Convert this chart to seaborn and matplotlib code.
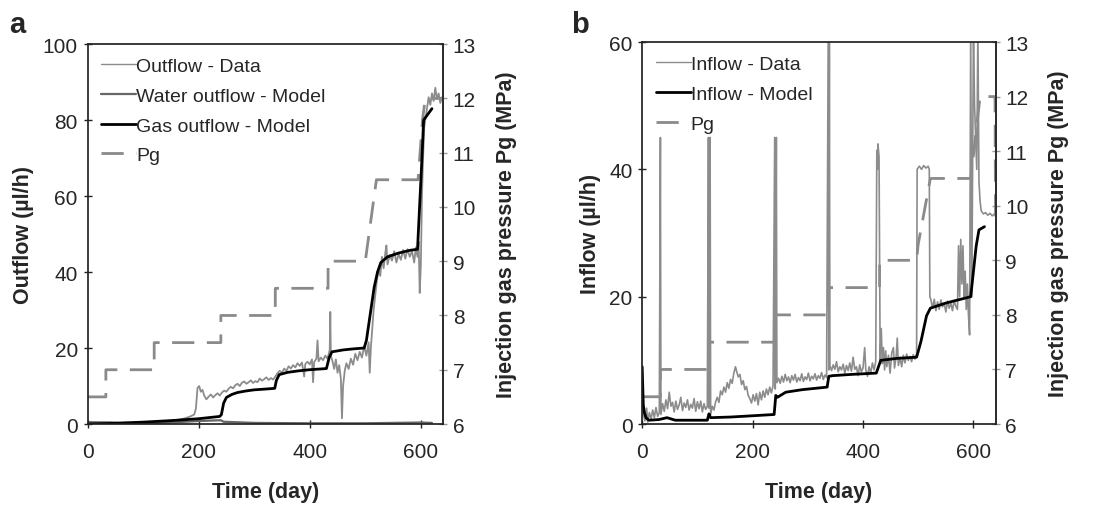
import matplotlib
matplotlib.use("Agg")
import matplotlib.pyplot as plt
import seaborn as sns

# ---------------------------------------------------------------------------
# Panel a data: outflow (ul/h) and injection pressure (MPa) vs time (day)
# ---------------------------------------------------------------------------
OUT_DATA_DAY = [
    0, 20, 40, 60, 80, 100, 120, 140, 160, 175, 185, 192, 195, 198, 201, 204,
    207, 210, 214, 218, 222, 226, 230, 234, 238, 242, 246, 250, 254, 258, 262,
    266, 270, 274, 278, 282, 286, 290, 294, 298, 302, 306, 310, 314, 318, 322,
    326, 330, 334, 338, 342, 346, 350, 354, 358, 362, 366, 370, 374, 378, 382,
    386, 390, 392, 396, 400, 404, 406, 408, 412, 414, 416, 420, 424, 428, 432,
    436, 437, 438, 441, 444, 447, 450, 453, 456, 458, 460, 463, 466, 470, 474,
    478, 482, 486, 490, 494, 498, 502, 506, 508, 510, 512, 515, 518, 521, 524,
    527, 530, 533, 536, 538, 540, 544, 548, 552, 556, 560, 564, 568, 572, 576,
    580, 584, 588, 591, 594, 596, 598, 600, 602, 604, 606, 608, 611, 614, 617,
    620, 623, 626, 629, 632, 635, 638, 640,
]
OUT_DATA_VAL = [
    0.3, 0.4, 0.5, 0.3, 0.4, 0.5, 0.6, 0.8, 1.0, 1.5, 2.0, 2.5, 4.0, 9.5, 10.0, 8.5,
    9.0, 7.5, 6.5, 7.2, 7.8, 7.0, 7.6, 8.1, 7.5, 8.3, 8.8, 8.5, 9.3, 9.8, 9.4,
    10.2, 10.6, 10.0, 10.9, 11.2, 10.6, 11.0, 11.5, 10.8, 11.3, 11.0, 12.0, 11.4, 11.8, 12.3,
    11.6, 12.1, 11.7, 12.5, 13.4, 14.0, 13.5, 14.6, 14.0, 15.2, 14.6, 15.5, 14.9, 16.0, 15.3,
    16.2, 12.5, 15.8, 16.4, 15.7, 17.0, 11.0, 16.3, 17.2, 22.0, 16.5, 17.5, 16.8, 18.0, 17.2,
    19.5, 29.5, 18.0, 16.5, 14.5, 17.0, 13.5, 15.5, 12.0, 1.5, 10.0, 14.0, 16.0, 14.5, 17.2,
    15.6, 18.5, 16.8, 19.0, 17.5, 20.5, 18.0, 21.5, 13.5, 20.0, 24.0, 30.0, 34.0, 38.0, 40.5,
    39.0, 44.0, 41.0, 45.0, 47.0, 42.0, 44.5, 43.0, 45.5, 42.5, 44.8, 43.2, 45.8, 43.5, 46.0,
    44.0, 45.5, 42.5, 46.5, 44.0, 48.0, 34.5, 42.0, 60.0, 70.0, 78.0, 80.0, 83.0, 86.0, 84.0,
    87.0, 85.0, 88.5, 85.5, 87.0, 84.5, 86.0, 85.0,
]

WATER_DAY = [0, 50, 100, 150, 200, 240, 245, 300, 400, 500, 600, 620]
WATER_VAL = [0.5, 0.3, 0.2, 0.4, 0.8, 1.0, 0.6, 0.3, 0.2, 0.2, 0.4, 0.3]

GAS_DAY = [
    0, 50, 100, 150, 200, 238, 241, 245, 250, 260, 270, 285, 300, 320, 337,
    340, 345, 360, 380, 400, 420, 430, 435, 440, 460, 480, 498, 502, 510, 516,
    522, 528, 540, 560, 580, 594, 597, 602, 605, 615, 620,
]
GAS_VAL = [
    0.0, 0.2, 0.5, 0.9, 1.4, 2.0, 2.5, 5.5, 7.0, 7.8, 8.3, 8.7, 9.0, 9.2, 9.4,
    11.5, 13.0, 13.6, 14.0, 14.3, 14.5, 14.6, 17.5, 19.0, 19.5, 19.8, 20.0, 22.0, 30.0, 36.0,
    40.0, 42.5, 44.0, 45.0, 45.7, 46.0, 55.0, 70.0, 80.0, 82.0, 83.0,
]

PG_A_DAY = [0, 33, 33, 120, 120, 240, 240, 338, 338, 433, 433, 500, 520, 595, 603, 608, 640]
PG_A_VAL = [6.5, 6.5, 7, 7, 7.5, 7.5, 8, 8, 8.5, 8.5, 9, 9, 10.5, 10.5, 11.6, 12, 12]

# ---------------------------------------------------------------------------
# Panel b data: inflow (ul/h) and injection pressure (MPa) vs time (day)
# ---------------------------------------------------------------------------
IN_DATA_DAY = [
    0, 2, 5, 8, 10, 13, 16, 19, 22, 25, 28, 31, 33, 34, 37, 40, 43, 46, 49, 52,
    55, 58, 61, 64, 67, 70, 73, 76, 79, 82, 85, 88, 91, 94, 97, 100, 103, 106,
    109, 112, 115, 118, 120, 121, 123, 124, 127, 130, 133, 136, 139, 142, 145,
    148, 151, 154, 157, 160, 163, 166, 169, 171, 174, 177, 180, 183, 186, 189,
    192, 195, 198, 201, 204, 207, 210, 213, 216, 219, 222, 225, 228, 231, 234,
    237, 240, 241, 243, 244, 247, 250, 253, 256, 259, 262, 265, 268, 271, 274,
    277, 280, 283, 286, 289, 292, 295, 298, 301, 304, 307, 310, 313, 316, 319,
    322, 325, 328, 331, 334, 337, 338, 339, 340, 343, 346, 349, 352, 355, 358,
    361, 364, 367, 370, 373, 376, 379, 382, 385, 388, 391, 394, 397, 400, 403,
    405, 408, 411, 414, 417, 420, 423, 425, 426, 427, 429, 431, 433, 435, 437,
    439, 441, 443, 446, 449, 452, 455, 457, 460, 462, 464, 467, 470, 473, 476,
    479, 482, 485, 488, 491, 494, 497, 498, 502, 506, 510, 514, 518, 520, 521,
    523, 526, 529, 532, 535, 538, 541, 544, 547, 550, 553, 556, 559, 562, 565,
    568, 571, 573, 575, 577, 579, 581, 583, 585, 587, 589, 591, 593, 595, 597,
    600, 602, 604, 606, 608, 610, 612, 614, 618, 622, 626, 630, 634, 638, 640,
]
IN_DATA_VAL = [
    3.0, 1.5, 0.5, 2.5, 0.3, 1.8, 0.8, 2.2, 1.0, 2.6, 1.2, 1.8, 45.0, 1.5, 3.2, 2.0, 3.8, 2.4, 5.0, 2.8,
    3.4, 1.9, 3.6, 2.3, 3.0, 4.2, 2.1, 3.3, 2.6, 3.8, 2.2, 3.1, 2.5, 4.0, 2.0, 3.5, 2.4, 3.6,
    1.9, 3.2, 2.3, 2.8, 45.0, 2.5, 45.0, 1.5, 2.8, 2.2, 3.5, 4.2, 3.4, 5.2, 4.6,
    5.8, 5.0, 6.5, 5.6, 7.0, 6.4, 8.0, 9.0, 8.3, 7.4, 7.8, 6.2, 6.8, 5.4, 5.9,
    4.5, 4.0, 3.3, 4.6, 3.6, 4.8, 3.0, 5.0, 3.8, 5.2, 4.2, 5.5, 4.6, 5.8, 4.9,
    6.0, 45.0, 5.5, 45.0, 6.5, 7.2, 6.4, 7.5, 6.6, 7.8, 6.8, 7.4, 6.5, 7.6, 6.9,
    7.8, 6.6, 7.3, 6.8, 7.9, 6.7, 7.4, 7.0, 8.0, 6.8, 7.5, 7.1, 7.9, 6.9, 7.6,
    7.2, 8.1, 7.0, 7.7, 7.3, 62.0, 8.5, 62.0, 9.2, 8.4, 9.3, 8.6, 9.8, 8.2, 9.0,
    8.5, 9.4, 8.0, 9.2, 8.4, 9.6, 8.3, 10.5, 8.6, 9.0, 7.6, 9.3, 8.2, 8.8, 12.0,
    8.5, 7.5, 9.0, 8.0, 9.6, 8.5, 9.8, 43.0, 40.0, 44.0, 42.0, 10.0, 15.0, 9.5, 12.0,
    8.5, 11.5, 9.0, 10.8, 8.0, 11.2, 12.0, 8.8, 10.6, 13.5, 9.2, 10.5, 9.0, 10.8, 9.6,
    11.0, 10.0, 10.6, 9.8, 10.9, 10.2, 11.0, 40.0, 40.5, 40.0, 40.6, 40.2, 40.5, 40.0, 20.0,
    19.5, 18.2, 19.6, 17.8, 19.2, 18.0, 19.5, 18.4, 19.0, 17.6, 19.3, 18.2, 19.0, 17.8, 19.4,
    18.5, 18.0, 28.0, 20.0, 29.0, 22.0, 28.0, 20.0, 24.0, 18.0, 22.0, 17.0, 14.0, 62.0, 20.0,
    62.0, 50.0, 45.0, 40.0, 62.0, 38.0, 35.0, 33.5, 33.0, 33.2, 32.8, 33.1, 32.7, 33.0, 32.8,
]

IN_MODEL_DAY = [
    0, 2, 4, 7, 12, 30, 45, 60, 118, 121, 124, 160, 200, 239, 242, 245, 260,
    290, 335, 338, 345, 380, 424, 432, 460, 497, 505, 515, 522, 550, 595, 605,
    610, 620,
]
IN_MODEL_VAL = [
    9.0, 3.0, 1.8, 1.0, 0.6, 0.7, 1.0, 0.6, 0.6, 1.6, 1.0, 1.1, 1.3, 1.5, 4.5, 4.2, 5.0,
    5.4, 5.8, 7.5, 7.6, 7.8, 8.0, 10.0, 10.3, 10.5, 13.0, 17.0, 18.2, 19.0, 20.0, 28.0,
    30.5, 31.0,
]

PG_B_DAY = [0, 33, 33, 120, 120, 240, 240, 338, 338, 430, 430, 497, 500, 522, 595, 612, 639, 640]
PG_B_VAL = [6.5, 6.5, 7, 7, 7.5, 7.5, 8, 8, 8.5, 8.5, 9, 9, 9.3, 10.5, 10.5, 12, 12, 9.8]

DATA_GREY = "#8c8c8c"
WATER_GREY = "#666666"
PG_GREY = "#8a8a8a"
PG_DASH = (8, 4.5)

sns.set_theme(style="ticks")
plt.rcParams["font.family"] = ["Liberation Sans", "DejaVu Sans"]

fig = plt.figure(figsize=(10.94, 5.06), dpi=100)
ax_a = fig.add_axes([0.080, 0.160, 0.325, 0.751])
ax_b = fig.add_axes([0.587, 0.160, 0.323, 0.755])


def line(ax, x, y, color, lw, dashes=None):
    sns.lineplot(x=x, y=y, ax=ax, color=color, linewidth=lw,
                 estimator=None, sort=False, legend=False)
    if dashes is not None:
        ax.lines[-1].set_dashes(dashes)


def style_axes(ax, ax2, ymax, ystep, ylabel, letter, xletter):
    ax.set_xlim(0, 640)
    ax.set_ylim(0, ymax)
    ax.set_xticks([0, 200, 400, 600])
    ax.set_yticks(range(0, ymax + 1, ystep))
    ax2.set_ylim(6, 13)
    ax2.set_yticks(range(6, 14))
    ax.set_xlabel("Time (day)", fontsize=15.5, fontweight="bold", labelpad=14)
    ax.set_ylabel(ylabel, fontsize=15.5, fontweight="bold", labelpad=6)
    ax2.set_ylabel("Injection gas pressure Pg (MPa)", fontsize=15.5,
                   fontweight="bold", labelpad=14)
    ax.tick_params(axis="both", direction="inout", length=6, width=1,
                   labelsize=15, color="#222222", pad=4)
    ax.tick_params(axis="x", pad=10)
    ax2.tick_params(axis="y", direction="inout", length=6, width=1,
                    labelsize=15, color="#999999", pad=4)
    for side in ["top", "bottom", "left"]:
        ax.spines[side].set_color("#222222")
    ax2.spines["right"].set_color("#555555")
    ax2.spines["right"].set_linewidth(1.2)
    for side in ["top", "bottom", "left"]:
        ax2.spines[side].set_visible(False)
    ax.set_zorder(ax2.get_zorder() + 1)
    ax.patch.set_visible(False)
    fig.text(xletter, 0.935, letter, fontsize=21, fontweight="bold")


def add_legend(ax, handles, labels):
    ax.legend(handles, labels, loc="upper left", frameon=False, fontsize=14,
              handlelength=1.8, handletextpad=0.0, labelspacing=0.62,
              borderaxespad=0.3, bbox_to_anchor=(0.0, 1.0))


# --- panel a -------------------------------------------------------------
ax_a2 = ax_a.twinx()
line(ax_a, OUT_DATA_DAY, OUT_DATA_VAL, DATA_GREY, 1.3)
line(ax_a, WATER_DAY, WATER_VAL, WATER_GREY, 1.6)
line(ax_a, GAS_DAY, GAS_VAL, "black", 2.0)
line(ax_a2, PG_A_DAY, PG_A_VAL, PG_GREY, 2.0, dashes=PG_DASH)
style_axes(ax_a, ax_a2, 100, 20, "Outflow (\u00b5l/h)", "a", 0.008)

add_legend(ax_a, [
    plt.Line2D([], [], color=DATA_GREY, lw=1.0),
    plt.Line2D([], [], color=WATER_GREY, lw=1.6),
    plt.Line2D([], [], color="black", lw=2.0),
    plt.Line2D([], [], color=PG_GREY, lw=2.0, dashes=PG_DASH),
], ["Outflow - Data", "Water outflow - Model", "Gas outflow - Model", "Pg"])

# --- panel b -------------------------------------------------------------
ax_b2 = ax_b.twinx()
line(ax_b, IN_DATA_DAY, IN_DATA_VAL, DATA_GREY, 1.2)
line(ax_b, IN_MODEL_DAY, IN_MODEL_VAL, "black", 2.0)
line(ax_b2, PG_B_DAY, PG_B_VAL, PG_GREY, 2.0, dashes=PG_DASH)
style_axes(ax_b, ax_b2, 60, 20, "Inflow (\u00b5l/h)", "b", 0.522)

add_legend(ax_b, [
    plt.Line2D([], [], color=DATA_GREY, lw=1.0),
    plt.Line2D([], [], color="black", lw=2.0),
    plt.Line2D([], [], color=PG_GREY, lw=2.0, dashes=PG_DASH),
], ["Inflow - Data", "Inflow - Model", "Pg"])

fig.savefig("out.png", dpi=100)
